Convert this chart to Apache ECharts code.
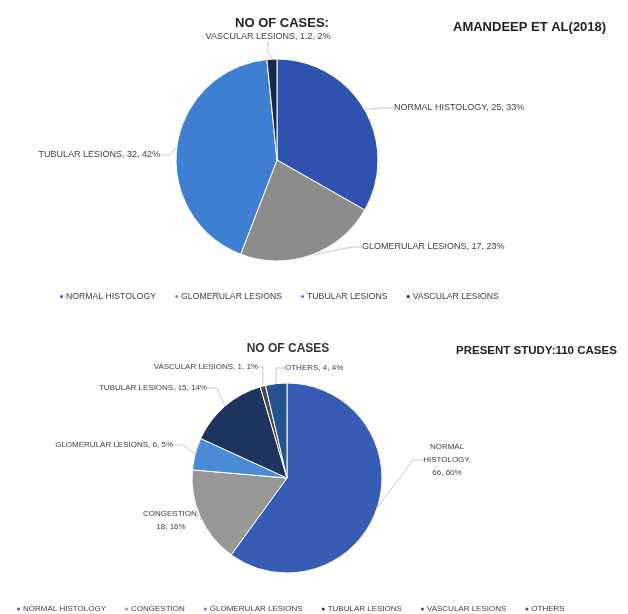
<!DOCTYPE html>
<html>
<head>
<meta charset="utf-8">
<script src="https://cdn.jsdelivr.net/npm/echarts@6/dist/echarts.min.js"></script>
<style>
  html, body { margin: 0; padding: 0; background: #fff; }
  #chart { width: 628px; height: 614px; }
</style>
</head>
<body>
<div id="chart"></div>
<script>
// Amandeep et al (2018)
const topNames = ["NORMAL HISTOLOGY", "GLOMERULAR LESIONS", "TUBULAR LESIONS", "VASCULAR LESIONS"]
const topValues = [25, 17, 32, 1.2]

// present study: 110 cases
const bottomNames = ["NORMAL HISTOLOGY", "CONGESTION", "GLOMERULAR LESIONS", "TUBULAR LESIONS", "VASCULAR LESIONS", "OTHERS"]
const bottomValues = [66, 18, 6, 15, 1, 4]

// styling
const topColors = ["#2f52b0", "#8c8c8c", "#3e7fd2", "#1a2a4c"]
const bottomColors = ["#375cb6", "#979797", "#4a8bd8", "#1f335f", "#4a4a4a", "#27528f"]

// where each slice label sits (text anchor), per series
const topLabelSpots = [
  { x: 394, y: 108, align: "left" },
  { x: 362, y: 247, align: "left" },
  { x: 160, y: 155, align: "right" },
  { x: 268, y: 37, align: "center" },
]
const bottomLabelSpots = [
  { x: 447, y: 460, align: "center" },
  { x: 171, y: 520, align: "center" },
  { x: 173, y: 445, align: "right" },
  { x: 207, y: 388, align: "right" },
  { x: 258, y: 367, align: "right" },
  { x: 285, y: 368, align: "left" },
]

const font = "'Liberation Sans', Arial, sans-serif"

const chart = echarts.init(document.getElementById("chart"))

const bottomLabel = (p) => {
  if (p.name === "NORMAL HISTOLOGY") return "NORMAL\nHISTOLOGY,\n" + p.value + ", " + p.percent + "%"
  if (p.name === "CONGESTION") return "CONGESTION,\n" + p.value + ", " + p.percent + "%"
  return p.name + ", " + p.value + ", " + p.percent + "%"
}

const placeLabel = (spots) => (params) => {
  const s = spots[params.dataIndex]
  return { x: s.x, y: s.y, align: s.align, verticalAlign: "middle" }
}

chart.setOption({
  animation: false,
  title: [
    { text: "NO OF CASES:", left: 277, top: 12, textAlign: "center",
      textStyle: { fontSize: 13, fontWeight: "bold", color: "#222", fontFamily: font } },
    { text: "AMANDEEP ET AL(2018)", left: 448, top: 16,
      textStyle: { fontSize: 13, fontWeight: "bold", color: "#222", fontFamily: font } },
    { text: "NO OF CASES", left: 283, top: 338, textAlign: "center",
      textStyle: { fontSize: 12, fontWeight: "bold", color: "#333", fontFamily: font } },
    { text: "PRESENT STUDY:110 CASES", left: 451, top: 340,
      textStyle: { fontSize: 11.5, fontWeight: "bold", color: "#222", fontFamily: font } },
  ],
  legend: [
    {
      top: 287,
      left: 53,
      icon: "circle",
      itemWidth: 5,
      itemHeight: 5,
      itemGap: 17,
      textStyle: { fontSize: 8.7, color: "#404040", fontFamily: font, padding: [0, 0, 0, -3] },
      data: topNames,
    },
    {
      top: 600,
      left: 10,
      icon: "circle",
      itemWidth: 5,
      itemHeight: 5,
      itemGap: 17,
      textStyle: { fontSize: 8, color: "#404040", fontFamily: font, padding: [0, 0, 0, -3] },
      data: bottomNames.map((n, i) => ({ name: n, itemStyle: { color: bottomColors[i] } })),
    },
  ],
  series: [
    {
      type: "pie",
      center: [277, 160],
      radius: 101,
      startAngle: 90,
      percentPrecision: 0,
      itemStyle: { borderColor: "#fff", borderWidth: 1 },
      label: { fontSize: 9, color: "#404040", fontFamily: font, formatter: "{b}, {c}, {d}%" },
      labelLine: { length: 10, length2: 10, lineStyle: { color: "#c8c8c8", width: 1 } },
      labelLayout: placeLabel(topLabelSpots),
      data: topNames.map((n, i) => ({ name: n, value: topValues[i], itemStyle: { color: topColors[i] } })),
    },
    {
      type: "pie",
      center: [287, 478],
      radius: 95,
      startAngle: 90,
      percentPrecision: 0,
      itemStyle: { borderColor: "#fff", borderWidth: 1 },
      label: { fontSize: 8, lineHeight: 13, color: "#404040", fontFamily: font, formatter: bottomLabel },
      labelLine: { length: 10, length2: 10, lineStyle: { color: "#c8c8c8", width: 1 } },
      labelLayout: placeLabel(bottomLabelSpots),
      data: bottomNames.map((n, i) => ({ name: n, value: bottomValues[i], itemStyle: { color: bottomColors[i] } })),
    },
  ],
})
</script>
</body>
</html>
